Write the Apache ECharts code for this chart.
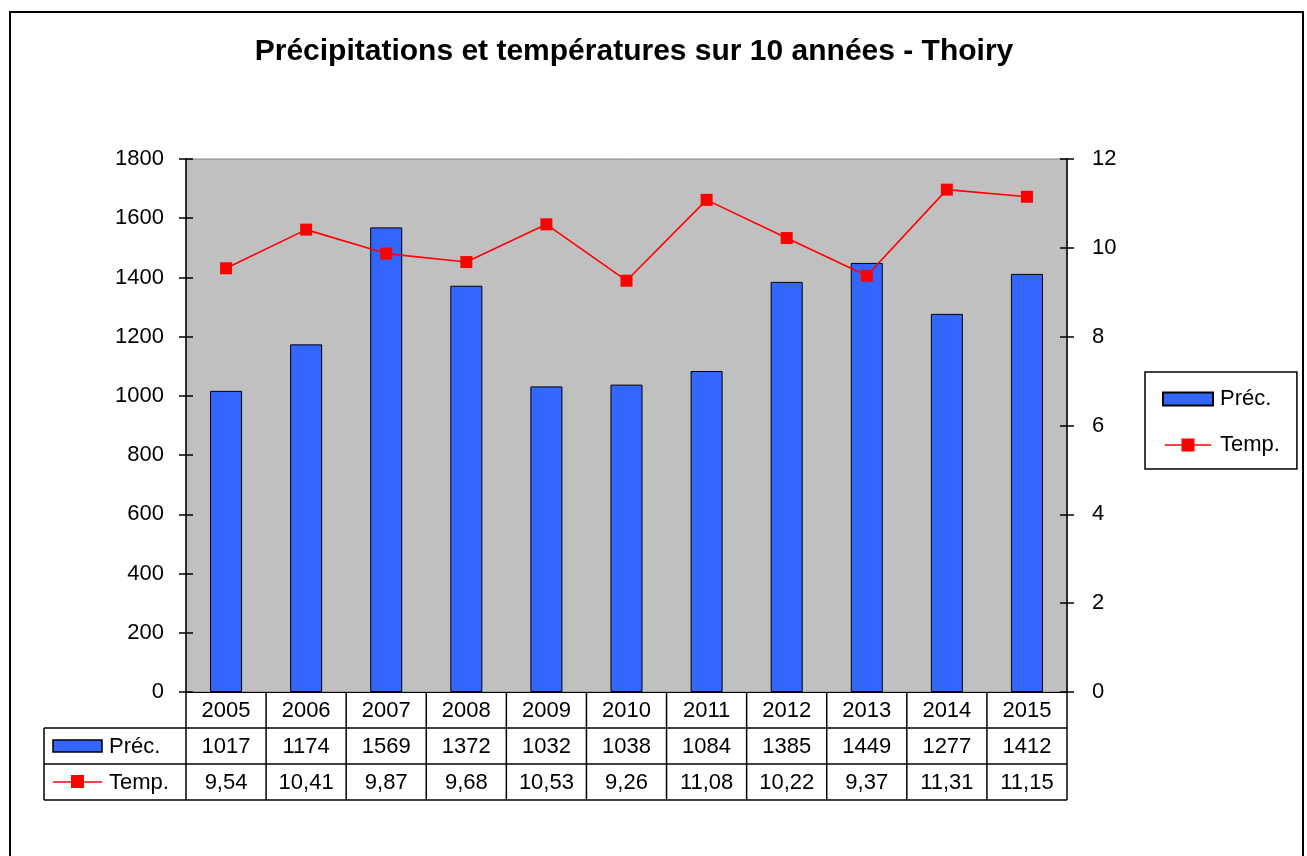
<!DOCTYPE html>
<html><head><meta charset="utf-8">
<script src="https://cdn.jsdelivr.net/npm/echarts@6/dist/echarts.min.js"></script>
<style>html,body{margin:0;padding:0;background:#fff}#c{width:1307px;height:856px}</style>
</head><body><div id="c"></div>
<script>
const titleText = 'Précipitations et températures sur 10 années - Thoiry';
const years = ['2005','2006','2007','2008','2009','2010','2011','2012','2013','2014','2015'];
const prec = [1017,1174,1569,1372,1032,1038,1084,1385,1449,1277,1412];
const temp = [9.54,10.41,9.87,9.68,10.53,9.26,11.08,10.22,9.37,11.31,11.15];
const seriesNames = ['Préc.','Temp.'];
const FONT = '"Liberation Sans", Arial, sans-serif';
const FS = 22;
const BLUE = '#3366FF', RED = '#FF0000';

const chart = echarts.init(document.getElementById('c'), null, {renderer:'canvas'});
const tickStyle = {color:'#000', width:1.5};
const option = {
  animation:false,
  backgroundColor:'#fff',
  textStyle:{fontFamily:FONT},
  grid:{left:186, top:159, width:881, height:533, show:true, backgroundColor:'#C0C0C0', borderColor:'#808080', borderWidth:1},
  legend:{
    orient:'vertical', left:1145, top:372,
    padding:[15,17,12,17], itemGap:22, itemWidth:50, itemHeight:13,
    borderColor:'#000', borderWidth:1.5, backgroundColor:'#fff',
    textStyle:{fontSize:FS, color:'#000', fontFamily:FONT, lineHeight:24, padding:[0,0,0,2]},
    data:[{name:seriesNames[0], icon:'rect'},
          {name:seriesNames[1], icon:'path://M0,6.2H18V0H32V6.2H50V7.8H32V14H18V7.8H0Z'}]
  },
  xAxis:{type:'category', data:years, boundaryGap:true,
    axisLine:{show:true, lineStyle:{color:'#000', width:1}}, axisTick:{show:false}, axisLabel:{show:false}, splitLine:{show:false}},
  yAxis:[
    {type:'value', min:0, max:1800, interval:200, position:'left',
     axisLine:{show:true, lineStyle:{color:'#000', width:1.5}}, axisTick:{show:true, length:7, lineStyle:tickStyle},
     axisLabel:{fontSize:FS, color:'#000', fontFamily:FONT, margin:22, formatter:v=>String(v)}, splitLine:{show:false}},
    {type:'value', min:0, max:12, interval:2, position:'right',
     axisLine:{show:true, lineStyle:{color:'#000', width:1.5}}, axisTick:{show:true, length:7, lineStyle:tickStyle},
     axisLabel:{fontSize:FS, color:'#000', fontFamily:FONT, margin:25, formatter:v=>String(v)}, splitLine:{show:false}},
    // inner halves of the crossing tick marks
    {type:'value', min:0, max:1800, interval:200, position:'left',
     axisLine:{show:false}, axisTick:{show:true, inside:true, length:7, lineStyle:tickStyle}, axisLabel:{show:false}, splitLine:{show:false}},
    {type:'value', min:0, max:12, interval:2, position:'right',
     axisLine:{show:false}, axisTick:{show:true, inside:true, length:7, lineStyle:tickStyle}, axisLabel:{show:false}, splitLine:{show:false}}
  ],
  series:[
    {name:seriesNames[0], type:'bar', data:prec, yAxisIndex:0, barWidth:'40%',
     itemStyle:{color:BLUE, borderColor:'#000', borderWidth:1}},
    {name:seriesNames[1], type:'line', data:temp, yAxisIndex:1, symbol:'rect', symbolSize:12,
     itemStyle:{color:RED}, lineStyle:{color:RED, width:1.6}}
  ]
};
chart.setOption(option);

// Data table beneath the axis, positioned from the library's scales
const xc = years.map(y => chart.convertToPixel({xAxisIndex:0}, y));
const bw = xc[1] - xc[0];
const y0 = chart.convertToPixel({yAxisIndex:0}, 0);
const rowH = 36;
const leftX = 44;
const gx0 = xc[0] - bw/2;
const gx1 = xc[xc.length-1] + bw/2;
const els = [];
const line = (x1,y1,x2,y2,c) => els.push({type:'line', shape:{x1,y1,x2,y2}, style:{stroke:c||'#000', lineWidth:1.5}});
const txt = (x,y,t,align) => els.push({type:'text', x, y, style:{text:t, fill:'#000', font:FS+'px '+FONT, textAlign:align||'center', textVerticalAlign:'middle'}});
line(leftX, y0+rowH, gx1, y0+rowH);
line(leftX, y0+2*rowH, gx1, y0+2*rowH);
line(leftX, y0+3*rowH, gx1, y0+3*rowH);
for (let i=0;i<=years.length;i++){ const x = gx0 + i*bw; line(x, y0, x, y0+3*rowH); }
line(leftX, y0+rowH, leftX, y0+3*rowH);
years.forEach((yr,i)=>{
  txt(xc[i], y0+rowH/2+1, yr);
  txt(xc[i], y0+rowH*1.5+1, String(prec[i]));
  txt(xc[i], y0+rowH*2.5+1, temp[i].toFixed(2).replace('.',','));
});
els.push({type:'rect', shape:{x:53, y:y0+rowH*1.5-6, width:49, height:12}, style:{fill:BLUE, stroke:'#000', lineWidth:1.5}});
txt(109, y0+rowH*1.5+1, seriesNames[0], 'left');
line(53, y0+rowH*2.5, 102, y0+rowH*2.5, RED);
els.push({type:'rect', shape:{x:71, y:y0+rowH*2.5-7, width:13, height:13}, style:{fill:RED}});
txt(109, y0+rowH*2.5+1, seriesNames[1], 'left');
els.push({type:'text', x:634, y:52, style:{text:titleText, fill:'#000', font:'bold 30px '+FONT, textAlign:'center', textVerticalAlign:'middle'}});
els.push({type:'rect', shape:{x:10, y:12, width:1293, height:900}, style:{fill:null, stroke:'#000', lineWidth:2}, z:-1});
chart.setOption({graphic:{elements:els}});
</script></body></html>
